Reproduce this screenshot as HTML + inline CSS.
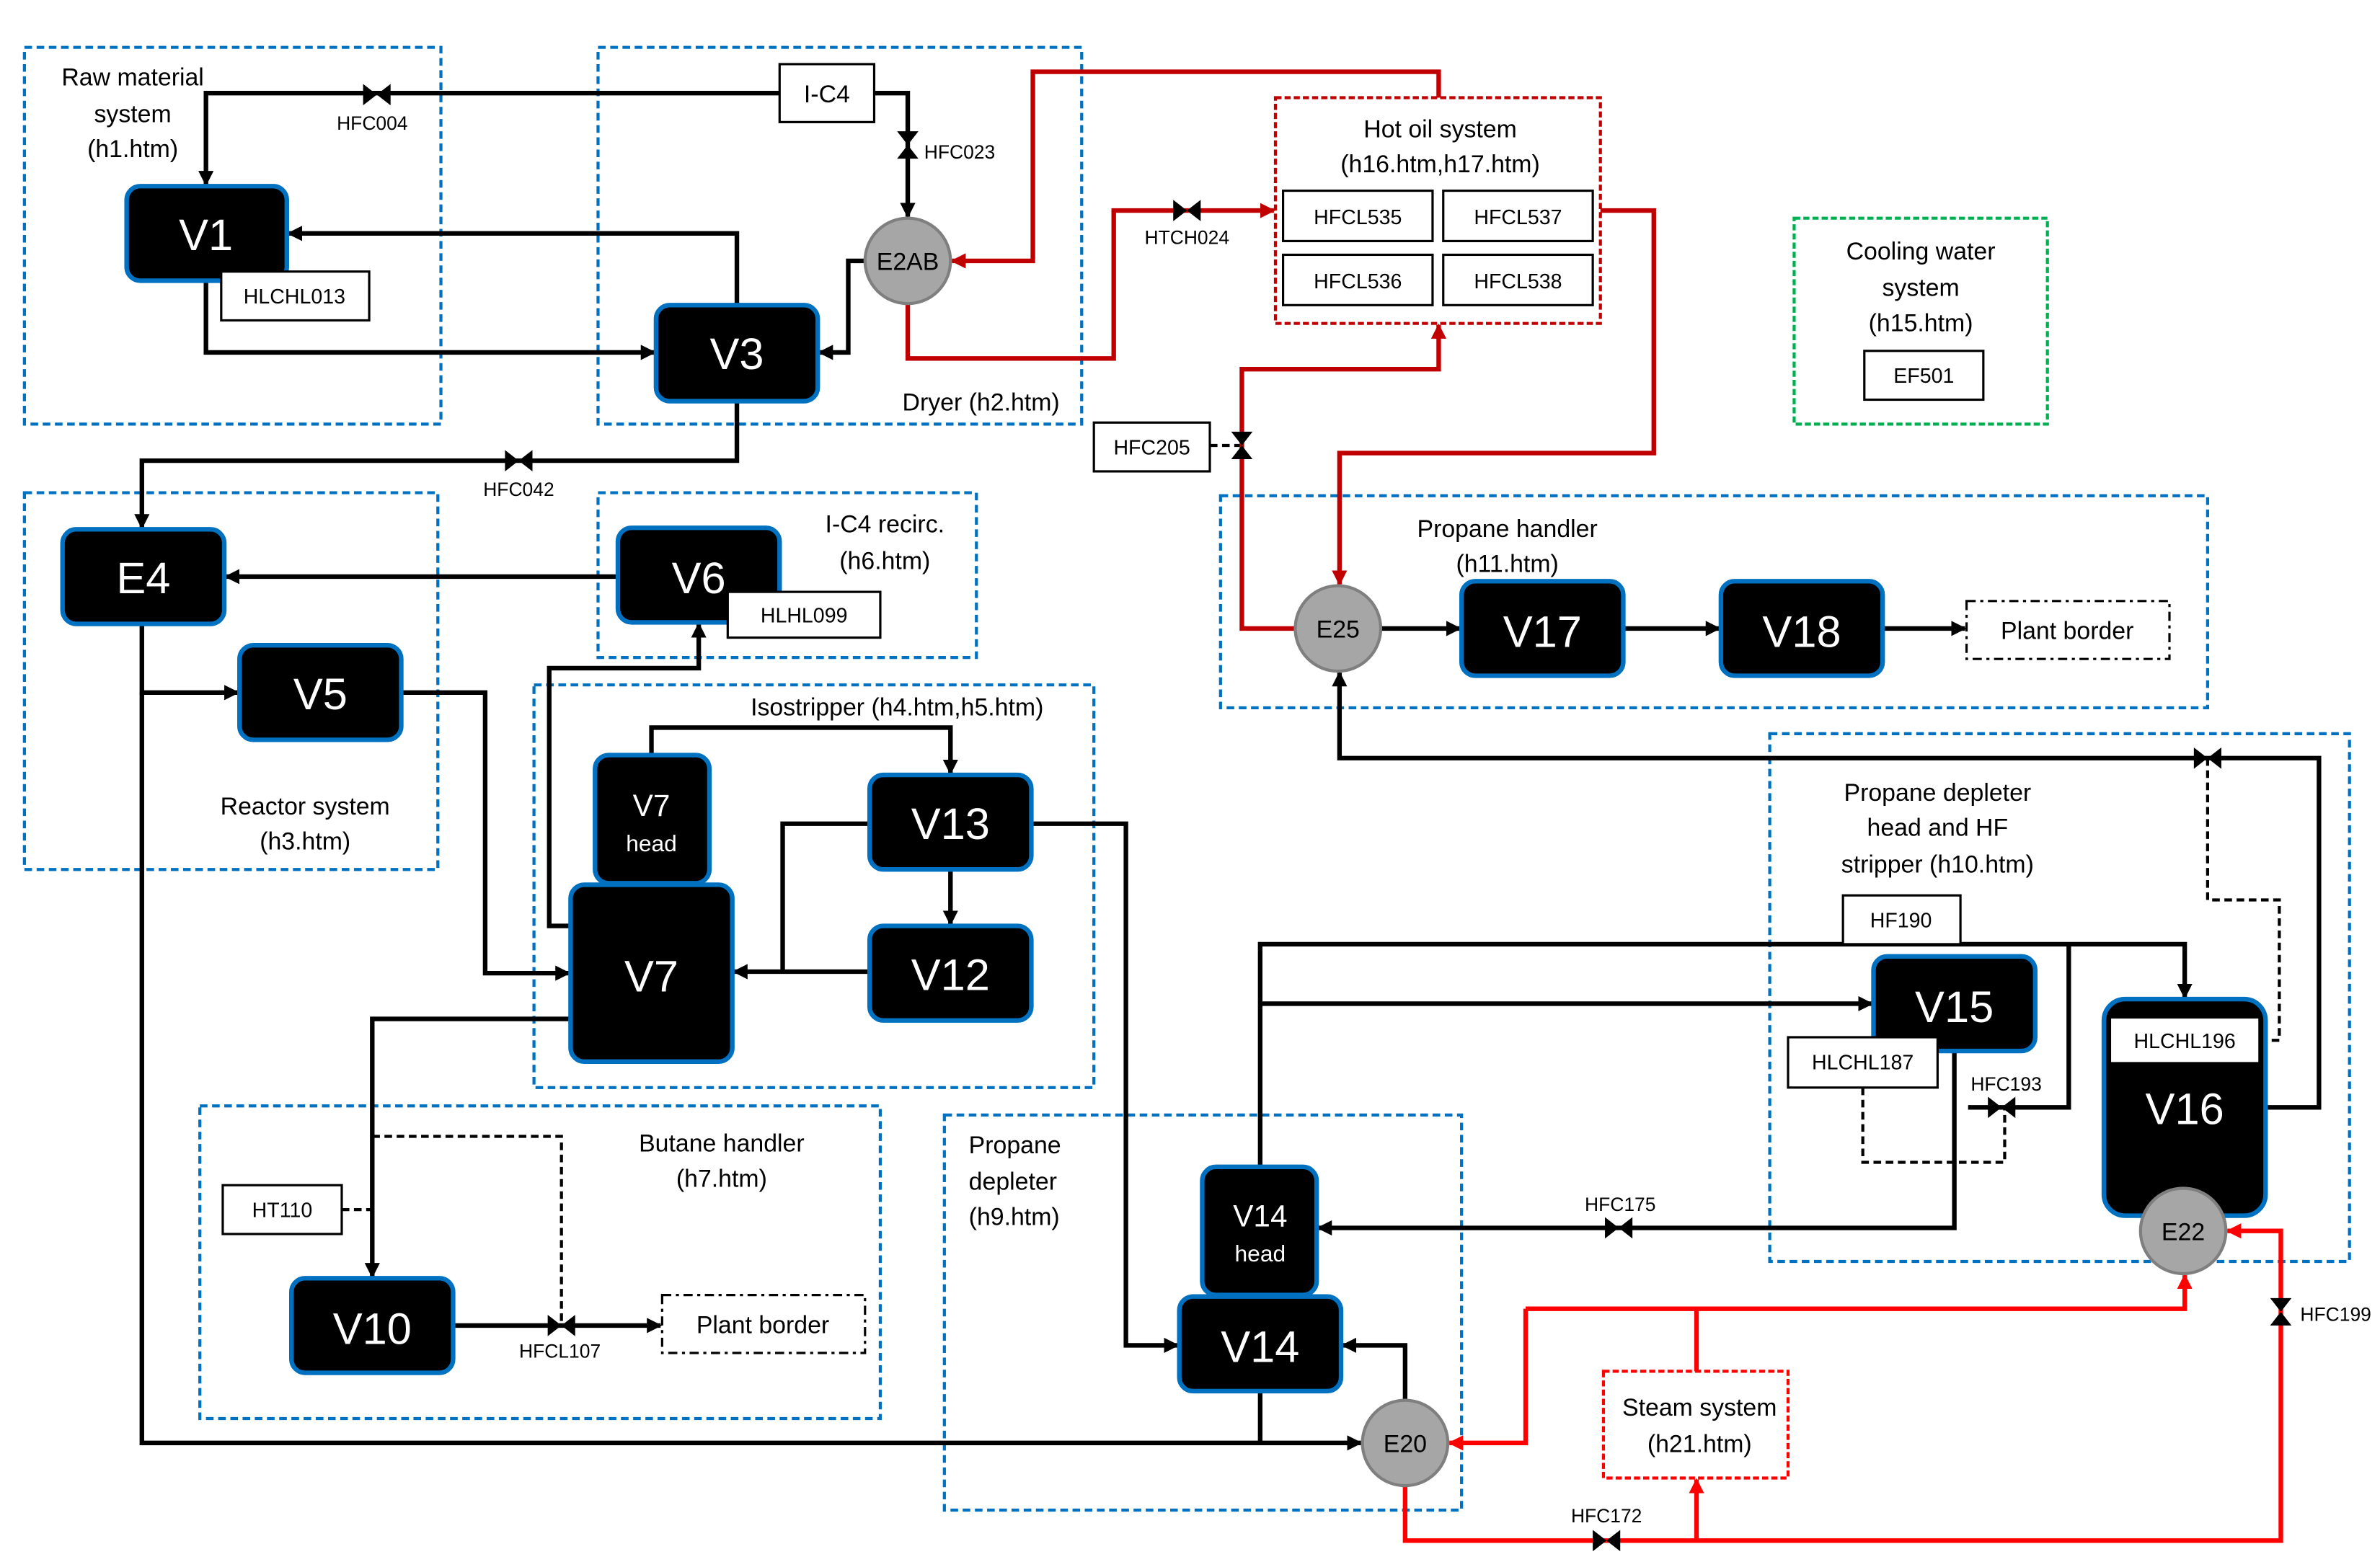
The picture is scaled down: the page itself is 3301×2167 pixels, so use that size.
<!DOCTYPE html>
<html><head><meta charset="utf-8"><style>html,body{margin:0;padding:0;background:#fff}svg{display:block}</style></head>
<body>
<svg xmlns="http://www.w3.org/2000/svg" width="3301" height="2167" viewBox="0 0 1560 1024" font-family="Liberation Sans, sans-serif">
<defs>
<marker id="ab" markerWidth="10" markerHeight="10" refX="9" refY="5" orient="auto" markerUnits="userSpaceOnUse"><path d="M0,0 L10,5 L0,10 z" fill="#000"/></marker>
<marker id="ar" markerWidth="10" markerHeight="10" refX="9" refY="5" orient="auto" markerUnits="userSpaceOnUse"><path d="M0,0 L10,5 L0,10 z" fill="#c00000"/></marker>
<marker id="af" markerWidth="10" markerHeight="10" refX="9" refY="5" orient="auto" markerUnits="userSpaceOnUse"><path d="M0,0 L10,5 L0,10 z" fill="#f00"/></marker>
<g id="vh"><path d="M-9,-7 L9,7 L9,-7 L-9,7 z" fill="#000"/></g>
<g id="vv"><path d="M-7,-9 L7,9 L-7,9 L7,-9 z" fill="#000"/></g>
</defs>
<rect width="1560" height="1024" fill="#fff"/>
<!-- group boxes -->
<g fill="none" stroke="#0070c0" stroke-width="2" stroke-dasharray="5,3">
<rect x="16" y="31" width="273" height="247"/>
<rect x="392" y="31" width="317" height="247"/>
<rect x="16" y="323" width="271" height="247"/>
<rect x="392" y="323" width="248" height="108"/>
<rect x="350" y="449" width="367" height="264"/>
<rect x="131" y="725" width="446" height="205"/>
<rect x="619" y="731" width="339" height="259"/>
<rect x="800" y="325" width="647" height="139"/>
<rect x="1160" y="481" width="380" height="346"/>
</g>
<g fill="none" stroke="#c00000" stroke-width="2" stroke-dasharray="4,2">
<rect x="836" y="64" width="213" height="148"/></g>
<g fill="none" stroke="#f00" stroke-width="2" stroke-dasharray="4,2">
<rect x="1051" y="899" width="121" height="70"/></g>
<rect x="1176" y="143" width="166" height="135" fill="none" stroke="#00b050" stroke-width="2" stroke-dasharray="4,2"/>

<!-- black lines -->
<g fill="none" stroke="#000" stroke-width="3">
<path d="M511,61 H135 V121" marker-end="url(#ab)"/>
<path d="M573,61 H595 V142" marker-end="url(#ab)"/>
<path d="M483,200 V153 H189" marker-end="url(#ab)"/>
<path d="M135,184 V231 H429" marker-end="url(#ab)"/>
<path d="M567,171 H556 V231 H537" marker-end="url(#ab)"/>
<path d="M483,263 V302 H93 V346" marker-end="url(#ab)"/>
<path d="M405,378 H148" marker-end="url(#ab)"/>
<path d="M93,409 V454 H156" marker-end="url(#ab)"/>
<path d="M93,454 V946 H892" marker-end="url(#ab)"/>
<path d="M263,454 H318 V638 H373" marker-end="url(#ab)"/>
<path d="M374,607 H360 V438 H458 V409" marker-end="url(#ab)"/>
<path d="M427,495 V477 H623 V507" marker-end="url(#ab)"/>
<path d="M623,570 V606" marker-end="url(#ab)"/>
<path d="M570,637 H481" marker-end="url(#ab)"/>
<path d="M570,540 H513 V637"/>
<path d="M676,540 H738 V882 H772" marker-end="url(#ab)"/>
<path d="M374,668 H244 V837" marker-end="url(#ab)"/>
<path d="M297,869 H433" marker-end="url(#ab)"/>
<path d="M921,918 V882 H880" marker-end="url(#ab)"/>
<path d="M826,912 V946"/>
<path d="M826,765 V619 H1432 V654" marker-end="url(#ab)"/>
<path d="M826,658 H1227" marker-end="url(#ab)"/>
<path d="M1356,619 V726 H1290"/>
<path d="M1281,689 V805 H864" marker-end="url(#ab)"/>
<path d="M1485,726 H1520 V497 H878 V441" marker-end="url(#ab)"/>
<path d="M905,412 H957" marker-end="url(#ab)"/>
<path d="M1064,412 H1127" marker-end="url(#ab)"/>
<path d="M1234,412 H1288" marker-end="url(#ab)"/>
</g>
<g fill="none" stroke="#000" stroke-width="2" stroke-dasharray="5,3">
<path d="M224,793 H244"/>
<path d="M244,745 H368 V869"/>
<path d="M1221,713 V762 H1314 V726"/>
<path d="M1481,682 H1494 V590 H1447 V497"/>
<path d="M793,292 H814"/>
</g>
<!-- red lines -->
<g fill="none" stroke="#c00000" stroke-width="3">
<path d="M943,64 V47 H677 V171 H624" marker-end="url(#ar)"/>
<path d="M595,199 V235 H730 V138 H835" marker-end="url(#ar)"/>
<path d="M1049,138 H1084 V297 H878 V383" marker-end="url(#ar)"/>
<path d="M849,412 H814 V242 H943 V213" marker-end="url(#ar)"/>
</g>
<g fill="none" stroke="#f00" stroke-width="3">
<path d="M1112,899 V858"/>
<path d="M1000,858 H1432 V836" marker-end="url(#af)"/>
<path d="M1000,858 V946 H950" marker-end="url(#af)"/>
<path d="M921,974 V1010 H1495 V807 H1460" marker-end="url(#af)"/>
<path d="M1112,1010 V970" marker-end="url(#af)"/>
</g>
<!-- valves -->
<use href="#vh" x="247" y="62"/><use href="#vv" x="595" y="95"/>
<use href="#vh" x="778" y="138"/><use href="#vv" x="814" y="292"/>
<use href="#vh" x="340" y="302"/><use href="#vh" x="368" y="869"/>
<use href="#vh" x="1061" y="805"/><use href="#vh" x="1312" y="726"/>
<use href="#vv" x="1495" y="860"/><use href="#vh" x="1053" y="1010"/>
<use href="#vh" x="1447" y="497"/>
<!-- vessels -->
<g fill="#000" stroke="#0070c0" stroke-width="3">
<rect x="83" y="122" width="105" height="62" rx="9"/>
<rect x="430" y="200" width="106" height="63" rx="9"/>
<rect x="41" y="347" width="106" height="62" rx="9"/>
<rect x="405" y="346" width="106" height="62" rx="9"/>
<rect x="157" y="423" width="106" height="62" rx="9"/>
<rect x="390" y="495" width="75" height="84" rx="9"/>
<rect x="374" y="580" width="106" height="116" rx="9"/>
<rect x="570" y="508" width="106" height="62" rx="9"/>
<rect x="570" y="607" width="106" height="62" rx="9"/>
<rect x="191" y="838" width="106" height="62" rx="9"/>
<rect x="958" y="381" width="106" height="62" rx="9"/>
<rect x="1128" y="381" width="106" height="62" rx="9"/>
<rect x="1228" y="627" width="106" height="62" rx="9"/>
<rect x="1379" y="655" width="106" height="142" rx="14"/>
<rect x="788" y="765" width="75" height="84" rx="9"/>
<rect x="773" y="850" width="106" height="62" rx="9"/>
</g>
<g fill="#fff" font-size="29" text-anchor="middle">
<text x="135" y="164">V1</text><text x="483" y="242">V3</text>
<text x="94" y="389">E4</text><text x="458" y="389">V6</text>
<text x="210" y="465">V5</text><text x="427" y="650">V7</text>
<text x="623" y="550">V13</text><text x="623" y="649">V12</text>
<text x="244" y="881">V10</text><text x="1011" y="424">V17</text>
<text x="1181" y="424">V18</text><text x="1281" y="670">V15</text>
<text x="1432" y="737">V16</text><text x="826" y="893">V14</text>
<text x="427" y="535" font-size="20">V7</text><text x="427" y="558" font-size="15">head</text>
<text x="826" y="804" font-size="20">V14</text><text x="826" y="827" font-size="15">head</text>
</g>
<!-- circles -->
<g fill="#a6a6a6" stroke="#7f7f7f" stroke-width="2">
<circle cx="595" cy="171" r="28"/><circle cx="877" cy="412" r="28"/>
<circle cx="921" cy="946" r="28"/><circle cx="1431" cy="807" r="28"/>
</g>
<g font-size="16" text-anchor="middle" fill="#000">
<text x="595" y="177">E2AB</text><text x="877" y="418">E25</text>
<text x="921" y="952">E20</text><text x="1431" y="813">E22</text>
</g>
<!-- label boxes -->
<g fill="#fff" stroke="#000" stroke-width="1.5">
<rect x="511" y="42" width="62" height="38"/>
<rect x="145" y="178" width="97" height="32"/>
<rect x="477" y="388" width="100" height="30"/>
<rect x="841" y="125" width="98" height="33"/><rect x="946" y="125" width="98" height="33"/>
<rect x="841" y="167" width="98" height="33"/><rect x="946" y="167" width="98" height="33"/>
<rect x="1222" y="230" width="78" height="32"/>
<rect x="717" y="277" width="76" height="32"/>
<rect x="1208" y="587" width="77" height="32"/>
<rect x="1172" y="680" width="98" height="33"/>
<rect x="1383" y="667" width="98" height="30"/>
<rect x="146" y="777" width="78" height="32"/>
</g>
<g fill="#fff" stroke="#000" stroke-width="1.5" stroke-dasharray="6,3,2,3">
<rect x="1289" y="394" width="133" height="38"/>
<rect x="434" y="849" width="133" height="38"/>
</g>
<g font-size="13.5" text-anchor="middle" fill="#000">
<text x="542" y="67" font-size="16">I-C4</text>
<text x="193" y="199">HLCHL013</text>
<text x="527" y="408">HLHL099</text>
<text x="890" y="147">HFCL535</text><text x="995" y="147">HFCL537</text>
<text x="890" y="189">HFCL536</text><text x="995" y="189">HFCL538</text>
<text x="1261" y="251">EF501</text>
<text x="755" y="298">HFC205</text>
<text x="1246" y="608">HF190</text>
<text x="1221" y="701">HLCHL187</text>
<text x="1432" y="687">HLCHL196</text>
<text x="185" y="798">HT110</text>
<text x="1355" y="419" font-size="16">Plant border</text>
<text x="500" y="874" font-size="16">Plant border</text>
</g>
<!-- valve labels -->
<g font-size="12.5" text-anchor="middle" fill="#000">
<text x="244" y="85">HFC004</text>
<text x="629" y="104">HFC023</text>
<text x="778" y="160">HTCH024</text>
<text x="340" y="325">HFC042</text>
<text x="367" y="890">HFCL107</text>
<text x="1062" y="794">HFC175</text>
<text x="1315" y="715">HFC193</text>
<text x="1531" y="866">HFC199</text>
<text x="1053" y="998">HFC172</text>
</g>
<!-- group titles -->
<g font-size="16" text-anchor="middle" fill="#000">
<text x="87" y="56">Raw material</text><text x="87" y="80">system</text><text x="87" y="103">(h1.htm)</text>
<text x="643" y="269">Dryer (h2.htm)</text>
<text x="944" y="90">Hot oil system</text><text x="944" y="113">(h16.htm,h17.htm)</text>
<text x="1259" y="170">Cooling water</text><text x="1259" y="194">system</text><text x="1259" y="217">(h15.htm)</text>
<text x="580" y="349">I-C4 recirc.</text><text x="580" y="373">(h6.htm)</text>
<text x="988" y="352">Propane handler</text><text x="988" y="375">(h11.htm)</text>
<text x="588" y="469">Isostripper (h4.htm,h5.htm)</text>
<text x="200" y="534">Reactor system</text><text x="200" y="557">(h3.htm)</text>
<text x="1270" y="525">Propane depleter</text><text x="1270" y="548">head and HF</text><text x="1270" y="572">stripper (h10.htm)</text>
<text x="473" y="755">Butane handler</text><text x="473" y="778">(h7.htm)</text>
<text x="635" y="756" text-anchor="start">Propane</text><text x="635" y="780" text-anchor="start">depleter</text><text x="635" y="803" text-anchor="start">(h9.htm)</text>
<text x="1114" y="928">Steam system</text><text x="1114" y="952">(h21.htm)</text>
</g>
</svg>
</body></html>
